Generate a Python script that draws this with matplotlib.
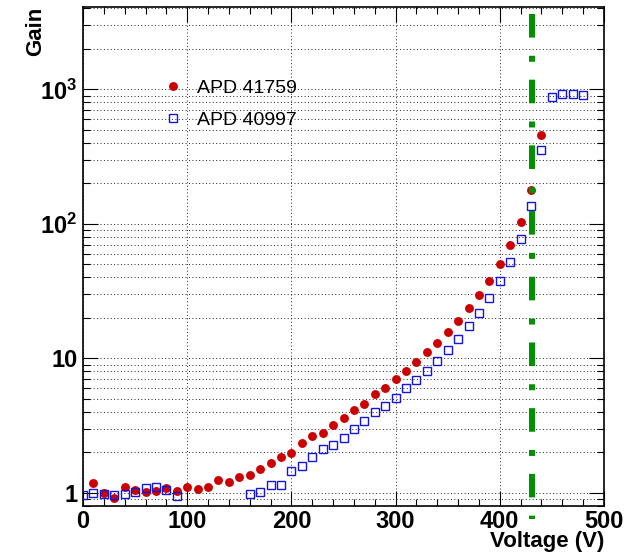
import matplotlib
matplotlib.use("Agg")
import matplotlib.pyplot as plt
from matplotlib.ticker import FixedLocator, FixedFormatter, MultipleLocator, NullFormatter

plt.rcParams['font.family'] = ['Liberation Sans', 'DejaVu Sans']
plt.rcParams['mathtext.fontset'] = 'custom'
plt.rcParams['mathtext.rm'] = 'Liberation Sans:bold'
plt.rcParams['mathtext.bf'] = 'Liberation Sans:bold'

# ---- data ----
voltage_41759 = [10, 20, 30, 40, 50, 60, 70, 80, 90, 100, 110, 120, 130, 140, 150,
                 160, 170, 180, 190, 200, 210, 220, 230, 240, 250, 260, 270, 280,
                 290, 300, 310, 320, 330, 340, 350, 360, 370, 380, 390, 400, 410,
                 420, 430, 440]
gain_41759 = [1.18, 1.00, 0.92, 1.10, 1.05, 1.02, 1.04, 1.08, 1.04, 1.11, 1.07, 1.10,
              1.25, 1.21, 1.32, 1.36, 1.50, 1.66, 1.84, 1.97, 2.34, 2.63, 2.81, 3.20,
              3.63, 4.12, 4.61, 5.42, 6.07, 7.04, 8.07, 9.42, 11.2, 13.1, 15.7, 19.1,
              23.6, 29.7, 37.9, 50.2, 69.5, 104, 179, 461]

voltage_40997 = [0, 10, 20, 30, 40, 50, 60, 70, 80, 90, 160, 170, 180, 190, 200, 210,
                 220, 230, 240, 250, 260, 270, 280, 290, 300, 310, 320, 330, 340, 350,
                 360, 370, 380, 390, 400, 410, 420, 430, 440, 450, 460, 470, 480]
gain_40997 = [0.97, 1.00, 0.98, 0.97, 0.98, 1.02, 1.08, 1.11, 1.05, 0.95, 0.98, 1.02,
              1.15, 1.15, 1.46, 1.59, 1.86, 2.11, 2.27, 2.56, 2.98, 3.45, 4.02, 4.41,
              5.11, 6.00, 6.92, 8.11, 9.53, 11.6, 14.0, 17.5, 21.9, 28.2, 37.5, 51.9,
              77.3, 135, 353, 884, 926, 926, 910]

breakdown_voltage = 431

label_41759 = "APD 41759"
label_40997 = "APD 40997"
x_label = "Voltage (V)"
y_label = "Gain"
x_tick_values = [0, 100, 200, 300, 400, 500]
x_tick_labels = ["0", "100", "200", "300", "400", "500"]
y_tick_values = [1, 10, 100, 1000]
y_tick_labels = ["1", "10", r"$\mathbf{10^{2}}$", r"$\mathbf{10^{3}}$"]

# ---- figure ----
fig = plt.figure(figsize=(6.35, 5.58), dpi=100)
ax = fig.add_axes([83/635, 1-506/558, (604-83)/635, (506-7)/558])

ax.set_yscale('log')
ax.set_xlim(0, 500)
ax.set_ylim(0.8, 4100)

red = '#cc0000'
blue = '#1414e0'
green = '#009000'

ax.plot(voltage_41759, gain_41759, linestyle='none', marker='o', markersize=6.4,
        color=red, markeredgewidth=0, label=label_41759, zorder=3)
ax.plot(voltage_40997, gain_40997, linestyle='none', marker='s', markersize=5.6,
        markerfacecolor='none', markeredgecolor=blue, markeredgewidth=1.0,
        label=label_40997, zorder=4)

# breakdown line (long-short dashed, running slightly below the frame)
ln, = ax.plot([breakdown_voltage, breakdown_voltage], [4100, 0.635], color=green,
              lw=4.3, dash_capstyle='butt', clip_on=False, zorder=5,
              linestyle=(9.83, (3.95, 3.05, 1.0, 3.0)))

# ticks
ax.xaxis.set_major_locator(FixedLocator(x_tick_values))
ax.xaxis.set_major_formatter(FixedFormatter(x_tick_labels))
ax.xaxis.set_minor_locator(MultipleLocator(20))
ax.yaxis.set_major_locator(FixedLocator(y_tick_values))
ax.yaxis.set_major_formatter(FixedFormatter(y_tick_labels))
minor_y = [m * 10**e for e in range(-1, 4) for m in range(2, 10)]
ax.yaxis.set_minor_locator(FixedLocator(minor_y))
ax.yaxis.set_minor_formatter(NullFormatter())

ax.tick_params(which='both', direction='in', top=True, right=True, width=0.8, color='black')
ax.tick_params(which='major', length=10.5)
ax.tick_params(which='minor', length=5.2)
ax.tick_params(axis='x', which='major', pad=3, labelsize=17)
ax.tick_params(axis='y', which='major', pad=4, labelsize=17)
for lab in ax.get_xticklabels() + ax.get_yticklabels():
    lab.set_fontweight('bold')

# grid
ax.grid(True, which='major', axis='x', color='#222222', lw=0.7, linestyle=(0, (1, 2.5)))
ax.grid(True, which='both', axis='y', color='#222222', lw=0.7, linestyle=(0, (1, 2.5)))
ax.set_axisbelow(True)

for sp in ax.spines.values():
    sp.set_linewidth(1.2)

ax.set_xlabel(x_label, loc='right', fontsize=16, fontweight='bold')
ax.xaxis.set_label_coords(1.0, -0.05)
ax.set_ylabel(y_label, loc='top', fontsize=16, fontweight='bold')
ax.yaxis.set_label_coords(-0.07, 1.0)

leg = ax.legend(loc='upper left', bbox_to_anchor=(0.155, 0.855), frameon=False,
                fontsize=14, handlelength=1.0, handletextpad=0.7, labelspacing=0.72,
                borderaxespad=0, borderpad=0)

fig.savefig('out.png', dpi=100)
